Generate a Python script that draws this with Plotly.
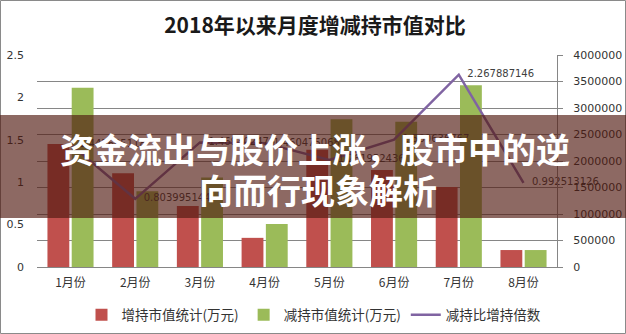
import plotly.graph_objects as go

categories = ["1月份", "2月份", "3月份", "4月份", "5月份", "6月份", "7月份", "8月份"]
increase_value = [2320000, 1770000, 1150000, 550000, 2210000, 1830000, 1510000, 320000]
decrease_value = [3380000, 1430000, 1690000, 810000, 2790000, 2740000, 3430000, 320000]
ratio = [1.445605118, 0.803995144, 1.469302478, 1.460475068, 1.261952436, 1.500636767, 2.267887146, 0.992513126]
left_ticks = [0, 0.5, 1, 1.5, 2, 2.5]
right_ticks = [0, 500000, 1000000, 1500000, 2000000, 2500000, 3000000, 3500000, 4000000]

W, H = 626, 334
L, R, T, B = 37, 557, 55, 267
PW, PH = R - L, B - T


def px(x):
    return (x - L) / PW


def py(y):
    return (B - y) / PH


RED = "#C0504D"
GREEN = "#9BBB59"
PURPLE = "#8064A2"
GRID = "#868686"
TXT = "#333333"
NUM_FONT = "DejaVu Sans"
CJK = "Noto Sans CJK SC"

fig = go.Figure()
fig.add_trace(go.Bar(x=categories, y=increase_value, name="增持市值统计(万元)",
                     marker=dict(color=RED, line=dict(width=0)), yaxis="y"))
fig.add_trace(go.Bar(x=categories, y=decrease_value, name="减持市值统计(万元)",
                     marker=dict(color=GREEN, line=dict(width=0)), yaxis="y"))
fig.add_trace(go.Scatter(x=categories, y=ratio, name="减持比增持倍数", mode="lines",
                         line=dict(color=PURPLE, width=2.5), yaxis="y2"))
fig.add_trace(go.Scatter(x=categories, y=ratio, mode="markers+text", showlegend=False,
                         text=[str(v) for v in ratio], textposition="middle right",
                         marker=dict(size=12, opacity=0), cliponaxis=False,
                         textfont=dict(family=NUM_FONT, size=10, color="#404040"),
                         yaxis="y2", hoverinfo="skip"))

fig.update_layout(
    width=W, height=H,
    margin=dict(l=L, r=W - R, t=T, b=H - B, autoexpand=False),
    paper_bgcolor="white", plot_bgcolor="white",
    barmode="group", bargap=0.25, bargroupgap=0.1,
    title=dict(text="<b>2018年以来月度增减持市值对比</b>", x=315 / W, xanchor="center",
               y=1 - 26 / H, yanchor="middle", yref="container",
               font=dict(family=CJK, size=21, color="#1a1a1a")),
    xaxis=dict(type="category", showgrid=False, showline=True, linecolor=GRID, linewidth=1,
               ticks="", tickfont=dict(family=CJK, size=12, color=TXT),
               ticklabelstandoff=5, zeroline=False),
    yaxis=dict(side="right", range=[0, 4000000], tickvals=right_ticks,
               ticktext=[str(v) for v in right_ticks],
               showgrid=True, gridcolor=GRID, gridwidth=1,
               showline=True, linecolor=GRID, linewidth=1, ticks="outside", ticklen=5,
               tickcolor=GRID, ticklabelstandoff=8,
               tickfont=dict(family=NUM_FONT, size=11, color=TXT), zeroline=False),
    yaxis2=dict(side="left", overlaying="y", range=[0, 2.5], tickvals=left_ticks,
                ticktext=["0", "0.5", "1", "1.5", "2", "2.5"],
                showgrid=False, showline=False, ticks="", ticklabelstandoff=12,
                tickfont=dict(family=NUM_FONT, size=11, color=TXT), zeroline=False),
    legend=dict(orientation="h", x=px(314), xanchor="center", y=py(315), yanchor="middle",
                font=dict(family=CJK, size=13.5, color=TXT), bgcolor="rgba(0,0,0,0)",
                traceorder="normal", itemwidth=30),
    shapes=[
        dict(type="rect", xref="paper", yref="paper", x0=px(0.5), x1=px(625.5),
             y0=py(333.5), y1=py(0.5), line=dict(color="#8a8a8a", width=1),
             fillcolor="rgba(0,0,0,0)", layer="above"),
        dict(type="rect", xref="paper", yref="paper", x0=px(0), x1=px(626),
             y0=py(218), y1=py(115), line=dict(width=0),
             fillcolor="rgba(80,25,15,0.65)", layer="above"),
    ],
    annotations=[
        dict(text="<b>资金流出与股价上涨，股市中的逆</b>", xref="paper", yref="paper",
             x=px(315), y=py(148), xanchor="center", yanchor="middle", showarrow=False,
             font=dict(family=CJK, size=34, color="white")),
        dict(text="<b>向而行现象解析</b>", xref="paper", yref="paper",
             x=px(318), y=py(189), xanchor="center", yanchor="middle", showarrow=False,
             font=dict(family=CJK, size=34, color="white")),
    ],
)

fig.write_html("out.html")
